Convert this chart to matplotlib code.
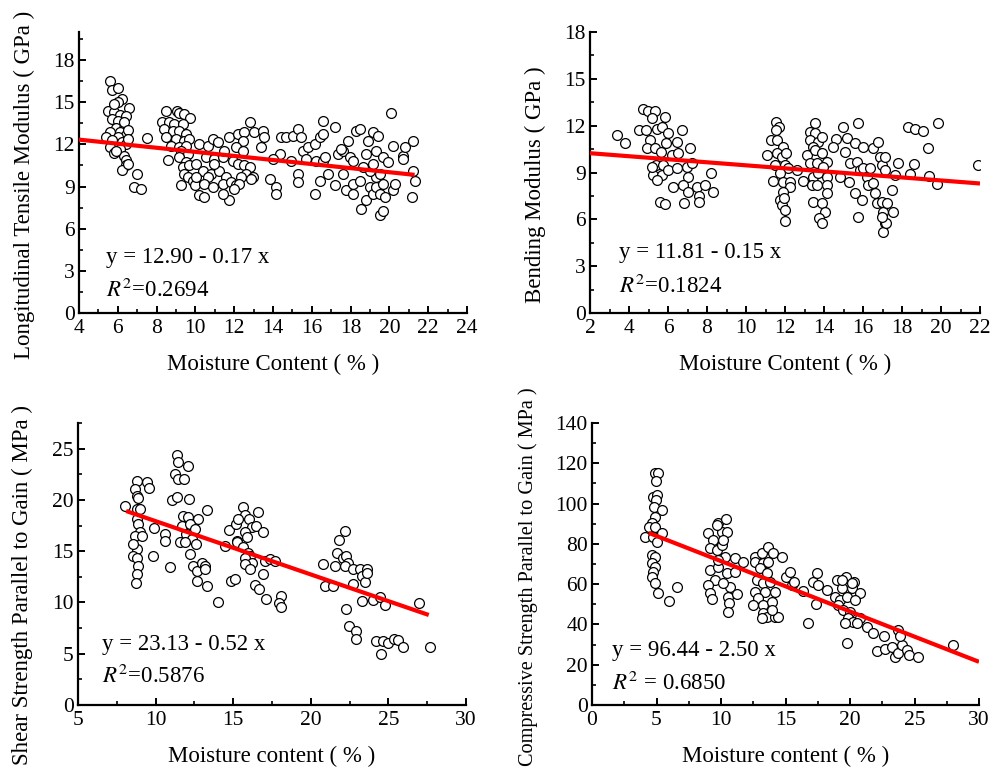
import numpy as np
import matplotlib
matplotlib.use("Agg")
import matplotlib.pyplot as plt
from matplotlib.ticker import MultipleLocator

plt.rcParams['font.family'] = ['Liberation Serif', 'DejaVu Serif']
plt.rcParams['mathtext.fontset'] = 'stix'

# ---------------- Panel 1: Longitudinal tensile modulus ----------------
p1 = [(5.6,16.5),(5.7,15.9),(6.0,16.0),(6.2,15.2),(6.0,15.0),(6.6,14.6),(5.5,14.4),(5.8,14.3),
      (6.1,14.1),(6.4,14.0),(5.7,13.8),(6.0,13.7),(5.9,13.2),(6.3,13.2),(5.6,12.9),(6.1,12.9),
      (6.4,12.7),(5.4,12.5),(6.0,12.5),(5.7,12.3),(6.2,12.2),(6.4,12.0),(5.6,11.8),(6.1,11.7),
      (5.8,11.4),(6.3,11.2),(5.9,11.5),(6.4,10.9),(6.4,10.5),(6.2,10.2),(6.5,10.6),(6.3,13.6),
      (6.5,13.0),(5.8,14.9),(6.5,12.4),
      (7.0,9.9),(6.84,8.96),(7.22,8.84),(7.48,12.43),
      (8.51,14.4),(9.03,14.4),(9.17,14.2),(9.43,14.16),(9.7,13.85),(8.27,13.57),(8.65,13.57),
      (8.91,13.45),(9.34,13.45),(8.39,13.1),(8.82,12.98),(9.17,12.98),(9.51,12.74),(8.48,12.5),
      (8.99,12.39),(9.43,12.27),(9.68,12.39),(8.74,11.91),(9.17,11.8),(9.51,11.91),(9.25,11.56),
      (9.6,11.32),(8.6,10.9),(9.17,11.09),(9.51,10.73),(9.34,10.38),(9.68,10.5),(9.43,9.9),
      (9.6,9.67),(9.25,9.08),(9.86,9.43),
      (9.96,9.08),(10.2,8.37),(10.46,8.25),(10.03,10.61),(10.2,12.03),(10.63,11.91),(10.89,12.39),
      (11.15,12.15),(10.55,11.09),(10.98,10.97),(11.41,11.09),(10.37,10.14),(10.8,9.9),(11.24,10.14),
      (11.58,9.67),(10.98,10.61),(10.63,9.67),(10.03,9.67),(10.46,9.2),(10.89,8.96),(11.41,9.2),
      (11.84,9.31),(12.1,9.08),(11.75,8.01),(11.41,8.49),(11.49,11.56),(11.75,12.5),(12.18,12.74),
      (12.53,12.86),(12.79,13.57),(13.04,12.86),(13.47,12.98),(13.56,12.55),(13.39,11.8),(12.44,12.27),
      (12.1,11.8),(12.44,11.56),(11.92,10.85),(12.18,10.61),(12.53,10.5),(12.79,10.38),(12.61,9.9),
      (12.35,9.67),(12.96,9.67),(12.87,9.55),(12.27,9.2),(12.01,8.84),
      (13.82,9.55),(14.16,8.96),(14.16,8.49),(14.42,12.5),(14.68,12.55),(15.03,12.62),(15.28,13.1),
      (15.46,12.55),(14.34,11.32),(13.99,10.97),(14.94,10.85),(15.28,9.9),(15.28,9.31),(15.54,11.56),
      (15.8,11.8),(15.71,10.97),(16.15,12.03),(16.4,12.5),(16.58,13.69),(16.58,12.74),(16.23,10.85),
      (16.58,10.85),(16.66,11.09),(16.4,9.43),(16.15,8.49),(16.83,9.9),(17.18,9.08),(17.18,13.21),
      (17.35,11.32),(17.61,11.56),(17.61,9.9),
      (17.78,8.72),(18.13,8.49),(18.13,9.2),(18.47,9.43),(18.56,7.42),(18.81,8.01),(18.99,8.96),
      (19.16,8.49),(19.33,8.96),(19.5,8.49),(19.67,9.2),(19.76,8.25),(19.5,6.95),(19.67,7.23),
      (19.33,9.67),(18.99,10.14),(19.16,10.61),(18.81,11.32),(19.33,11.56),(19.67,11.09),(19.93,10.73),
      (20.19,11.91),(20.19,8.72),(20.28,9.2),(20.71,11.2),(20.79,11.8),(20.71,10.97),(18.3,12.98),
      (18.47,13.1),(18.9,12.27),(19.16,12.86),(19.42,12.62),(20.1,14.21),(17.95,11.09),(18.13,10.85),
      (18.64,10.38),(19.5,9.9),(21.23,12.27),(21.23,10.14),(21.31,9.36),(21.14,8.25),(17.87,12.27),
      (17.52,11.68)]
mc1 = [p[0] for p in p1]
tensile = [p[1] for p in p1]

# ---------------- Panel 2: Bending modulus ----------------
p2 = [(3.37,11.38),(3.8,10.87),(4.53,11.72),(4.73,13.05),(4.99,12.96),(5.33,12.96),(5.16,12.47),
      (4.87,11.72),(5.45,11.77),(5.85,12.58),(5.68,11.94),(6.02,11.55),(6.44,10.96),(6.73,11.72),
      (5.08,11.08),(4.91,10.55),(5.33,10.55),(5.62,10.34),(5.9,10.87),(6.19,10.12),(6.53,10.23),
      (5.38,9.48),(5.76,9.48),(5.25,8.84),(5.68,8.84),(5.42,8.52),(6.02,9.16),(6.44,9.27),(6.96,9.38),
      (7.13,10.55),(7.21,9.59),(7.04,8.73),(6.79,8.2),(7.04,7.73),(7.47,8.09),(7.61,7.52),(7.61,7.13),
      (7.9,8.2),(8.2,8.99),(8.32,7.73),(6.27,8.09),(5.59,7.13),(5.85,6.98),(6.84,7.03),(5.16,9.38),
      (11.54,12.26),(11.71,11.94),(11.52,11.72),(11.3,11.08),(11.57,11.08),(11.91,10.66),(11.06,10.12),
      (11.57,10.23),(11.83,10.02),(12.05,10.23),(11.49,9.48),(12.0,9.48),(12.17,9.27),(11.74,8.95),
      (11.4,8.48),(11.91,8.41),(12.26,8.41),(12.26,8.09),(11.91,7.77),(11.74,7.24),(11.83,6.92),
      (12.0,6.6),(11.95,7.35),(12.0,5.92),(12.6,9.16),(12.9,8.48),
      (13.54,12.15),(13.28,11.62),(13.54,11.51),(13.28,11.08),(13.71,10.98),(13.88,11.3),(13.45,10.66),
      (13.11,10.12),(13.54,10.44),(13.88,10.23),(13.28,9.59),(13.62,9.59),(14.14,9.7),(13.45,8.73),
      (13.71,8.95),(14.14,8.73),(13.37,8.2),(13.62,8.2),(14.14,8.2),(14.17,7.67),(13.45,7.09),
      (13.88,7.03),(14.05,6.49),(13.76,6.07),(13.91,5.75),(13.97,9.38),
      (14.6,11.13),(14.48,10.66),(14.99,11.94),(15.16,11.19),(15.08,10.34),(14.82,8.73),(15.33,9.59),
      (15.3,8.41),(15.59,10.87),(15.73,12.15),(15.68,9.7),(15.59,7.71),(15.76,6.13),(15.85,9.16),
      (16.02,10.66),(16.02,9.27),(15.93,7.24),(16.19,8.73),(16.36,9.27),(16.27,8.2),(16.53,10.55),
      (16.53,8.31),(16.62,7.67),(16.79,10.98),(16.7,7.03),(16.87,10.02),(16.96,9.48),(17.04,6.49),
      (17.13,9.16),(16.96,7.13),(17.21,7.03),(17.13,5.75),(17.04,5.21),(17.18,5.75),(16.96,6.17),
      (17.47,7.88),(17.56,6.49),(17.81,9.59),(17.64,8.84),(17.13,10.02),
      (18.32,11.94),(18.67,11.79),(19.06,11.66),(19.35,10.55),(19.86,12.15),(18.62,9.52),(18.41,8.9),
      (19.4,8.8),(19.81,8.24),(21.91,9.48)]
mc2 = [p[0] for p in p2]
bending = [p[1] for p in p2]

# ---------------- Panel 3: Shear strength ----------------
p3 = [(8.03,19.44),(8.78,21.89),(8.67,21.08),(8.78,20.42),(8.89,20.16),(8.78,19.12),(9.0,19.12),
      (8.78,18.14),(8.89,17.65),(9.0,16.83),(8.67,16.5),(9.1,16.5),(8.78,15.19),(8.56,14.54),
      (8.78,14.38),(8.89,13.56),(8.78,12.74),(8.74,11.93),(8.56,15.68),(9.47,21.73),(9.59,21.17),
      (9.92,17.22),(9.85,14.54),(10.6,16.67),(10.6,16.01),(10.92,13.5),
      (11.4,24.34),(11.46,23.69),(12.06,23.27),(11.25,22.55),(11.46,22.06),(11.83,22.06),(11.03,20.03),
      (11.4,20.26),(12.17,20.1),(11.78,18.46),(12.1,18.3),(12.75,18.14),(11.68,17.48),(12.21,17.65),
      (12.53,17.16),(11.99,16.67),(12.32,16.17),(11.57,15.85),(11.89,15.85),(12.6,15.68),(12.21,14.7),
      (12.43,13.56),(12.64,13.07),(12.96,13.89),(13.18,13.56),(12.64,12.09),(13.18,13.23),(13.33,19.05),
      (13.33,11.6),(14.04,10.03),
      (14.47,15.52),(14.75,17.09),(15.17,17.65),(15.65,19.34),(15.75,18.53),(15.32,18.14),(16.03,18.14),
      (16.18,17.32),(16.5,17.48),(16.61,18.79),(15.75,16.83),(15.86,16.34),(15.22,16.01),(15.22,15.85),
      (15.65,15.36),(15.97,14.87),(16.08,14.54),(15.75,14.38),(16.18,13.89),(15.75,13.72),(16.08,13.23),
      (16.89,16.83),(16.93,12.74),(17.04,14.05),(17.36,14.21),(17.69,14.05),(14.83,12.09),(15.11,12.25),
      (16.4,11.67),(16.68,11.27),(17.11,10.36),(18.05,10.62),(17.96,9.97),(18.07,9.57),
      (20.8,13.72),(20.9,11.6),(21.44,11.6),(21.59,13.56),(21.66,14.8),(21.81,16.08),(22.19,16.99),
      (22.08,14.38),(22.3,14.54),(22.41,13.89),(22.19,13.56),(22.73,13.23),(22.73,11.76),(23.16,13.3),
      (23.27,12.58),(23.59,13.23),(23.48,12.0),(23.59,12.91),(22.3,9.38),(23.27,10.13),(22.47,7.68),
      (22.94,7.19),(22.94,6.44),
      (24.02,10.23),(24.45,10.55),(24.77,9.8),(24.19,6.21),(24.66,6.21),(24.55,4.99),(24.98,6.04),
      (25.35,6.44),(25.63,6.37),(25.95,5.65),(26.96,9.97),(27.67,5.65)]
mc3 = [p[0] for p in p3]
shear = [p[1] for p in p3]

# ---------------- Panel 4: Compressive strength ----------------
p4 = [(4.88,115.3),(5.14,115.3),(4.96,111.2),(4.75,103.4),(5.01,104.2),(4.94,101.8),(4.81,98.4),
      (5.4,96.8),(4.88,93.5),(4.63,90.2),(4.44,88.5),(4.88,88.5),(4.11,83.6),(4.75,83.6),(5.01,81.1),
      (5.4,85.2),(4.63,74.5),(4.88,73.6),(4.63,70.3),(4.88,68.7),(4.75,66.2),(4.63,63.7),(4.88,60.4),
      (5.14,55.8),(6.6,58.7),(5.97,51.8),
      (9.02,85.5),(9.79,90.2),(10.39,92.3),(9.41,81.9),(10.05,86.0),(10.44,86.0),(9.15,77.8),(9.66,76.9),
      (10.05,79.4),(10.31,73.6),(9.15,67.0),(9.79,68.7),(9.53,62.0),(10.44,65.4),(11.09,72.8),(11.68,71.1),
      (11.09,66.2),(9.02,59.6),(9.15,55.4),(9.28,52.4),(10.7,58.7),(10.57,53.8),(10.65,50.5),(10.57,46.3),
      (11.22,55.1),(9.66,89.3),(10.18,81.9),(9.79,72.0),(10.18,60.4),
      (12.64,73.6),(13.15,75.3),(13.67,78.6),(14.06,75.6),(14.7,73.6),(12.64,71.1),(13.28,70.3),
      (13.67,71.1),(13.02,67.8),(13.54,65.4),(12.76,62.0),(13.28,60.4),(13.8,61.2),(12.64,56.2),
      (13.41,56.2),(14.19,56.2),(12.89,52.9),(12.51,49.6),(13.28,49.6),(13.93,51.3),(13.28,45.5),
      (13.54,43.8),(14.19,43.8),(14.45,43.8),(13.15,43.0),(13.93,47.1),
      (15.04,63.7),(15.35,66.2),(15.48,59.6),(15.66,61.2),(16.38,56.6),(16.77,40.5),(17.11,61.2),
      (17.42,65.4),(17.55,59.6),(17.37,50.1),(18.19,57.1),
      (19.02,62.0),(19.69,63.7),(20.34,61.2),(19.35,57.9),(20.13,57.9),(20.78,55.4),(18.84,53.8),
      (19.22,52.1),(19.74,53.8),(20.39,52.1),(19.1,49.6),(19.48,47.1),(20.0,46.3),(19.87,43.0),
      (20.26,41.3),(19.61,40.9),(20.78,43.0),(20.52,40.5),(19.74,30.9),(20.13,60.7),(19.35,62.0),
      (21.29,38.9),(21.81,35.9),(22.64,34.2),(22.12,26.9),(22.71,27.6),(23.23,28.6),(23.49,24.0),
      (23.75,25.6),(24.0,29.8),(24.39,27.3),(23.75,37.2),(23.88,34.2),(24.6,24.8),(25.25,23.6),
      (28.01,29.8)]
mc4 = [p[0] for p in p4]
compressive = [p[1] for p in p4]

# Fitted lines as drawn in the picture (intercept, slope, x start, x end)
fit_intercept = [12.92, 10.43, 23.13, 96.44]
fit_slope = [-0.145, -0.097, -0.52, -2.50]
fit_xstart = [4.0, 2.0, 8.1, 4.4]
fit_xend = [21.3, 22.0, 27.6, 30.0]

eq_texts = ["y = 12.90 - 0.17 x", "y = 11.81 - 0.15 x", "y = 23.13 - 0.52 x", "y = 96.44 - 2.50 x"]
r2_texts = [r"$R^2$=0.2694", r"$R^2$=0.1824", r"$R^2$=0.5876", r"$R^2$ = 0.6850"]
ylabels = ["Longitudinal Tensile Modulus ( GPa )", "Bending Modulus ( GPa )",
           "Shear Strength Parallel to Gain ( MPa )", "Compressive Strength Parallel to Gain ( MPa )"]
xlabels = ["Moisture Content ( % )", "Moisture Content ( % )",
           "Moisture content ( % )", "Moisture content ( % )"]
xlims = [(4, 24), (2, 22), (5, 30), (0, 30)]
ylims = [(0, 20), (0, 18), (0, 27.5), (0, 140)]
xmaj = [2, 2, 5, 5]
ymaj = [3, 3, 5, 20]
ytick_max = [18, 18, 25, 140]

xs = [mc1, mc2, mc3, mc4]
ys = [tensile, bending, shear, compressive]

W, H = 992, 776
fig = plt.figure(figsize=(W / 100, H / 100), dpi=100)
rects = [(79, 32, 467, 313), (590, 32, 980, 313), (78, 423, 466, 705), (592, 423, 979, 705)]
eq_pos = [(0.07, 0.196, 0.082), (0.074, 0.217, 0.093), (0.062, 0.213, 0.10), (0.052, 0.195, 0.078)]
ylab_x = [24, 535, 22, 528]
ylab_y = [185, 185, 585, 577]
ylab_fs = [16.5, 16.5, 16.5, 14.6]

for i in range(4):
    l, t, r, b = rects[i]
    ax = fig.add_axes([l / W, 1 - b / H, (r - l) / W, (b - t) / H])
    ax.scatter(xs[i], ys[i], s=50, facecolors='white', edgecolors='black', linewidths=0.9, zorder=2)
    fx = np.array([fit_xstart[i], fit_xend[i]])
    ax.plot(fx, fit_intercept[i] + fit_slope[i] * fx, color='#ff0000', lw=3.0, zorder=3,
            solid_capstyle='butt')
    ax.set_xlim(*xlims[i])
    ax.set_ylim(*ylims[i])
    ax.set_xticks(np.arange(xlims[i][0], xlims[i][1] + 0.01, xmaj[i]))
    ax.set_yticks(np.arange(0, ytick_max[i] + 0.01, ymaj[i]))
    ax.xaxis.set_minor_locator(MultipleLocator(xmaj[i] / 2))
    ax.yaxis.set_minor_locator(MultipleLocator(ymaj[i] / 2))
    for s in ['top', 'right']:
        ax.spines[s].set_visible(False)
    for s in ['left', 'bottom']:
        ax.spines[s].set_linewidth(1.6)
    ax.tick_params(which='major', direction='in', length=5, width=1.4, labelsize=15.5)
    ax.tick_params(axis='x', which='major', pad=4)
    ax.tick_params(axis='y', which='major', pad=3)
    ax.tick_params(which='minor', direction='in', length=3, width=1.2)
    ax.set_xlabel(xlabels[i], fontsize=16.5, labelpad=12)
    ax.set_ylabel(ylabels[i], fontsize=ylab_fs[i], va='center')
    ax.yaxis.set_label_coords((ylab_x[i] - l) / (r - l), (b - ylab_y[i]) / (b - t))
    ex, ey, ry = eq_pos[i]
    ax.text(ex, ey, eq_texts[i], transform=ax.transAxes, fontsize=16.5, va='center', ha='left')
    ax.text(ex, ry, r2_texts[i], transform=ax.transAxes, fontsize=16.5, va='center', ha='left')

fig.savefig("out.png", dpi=100)
